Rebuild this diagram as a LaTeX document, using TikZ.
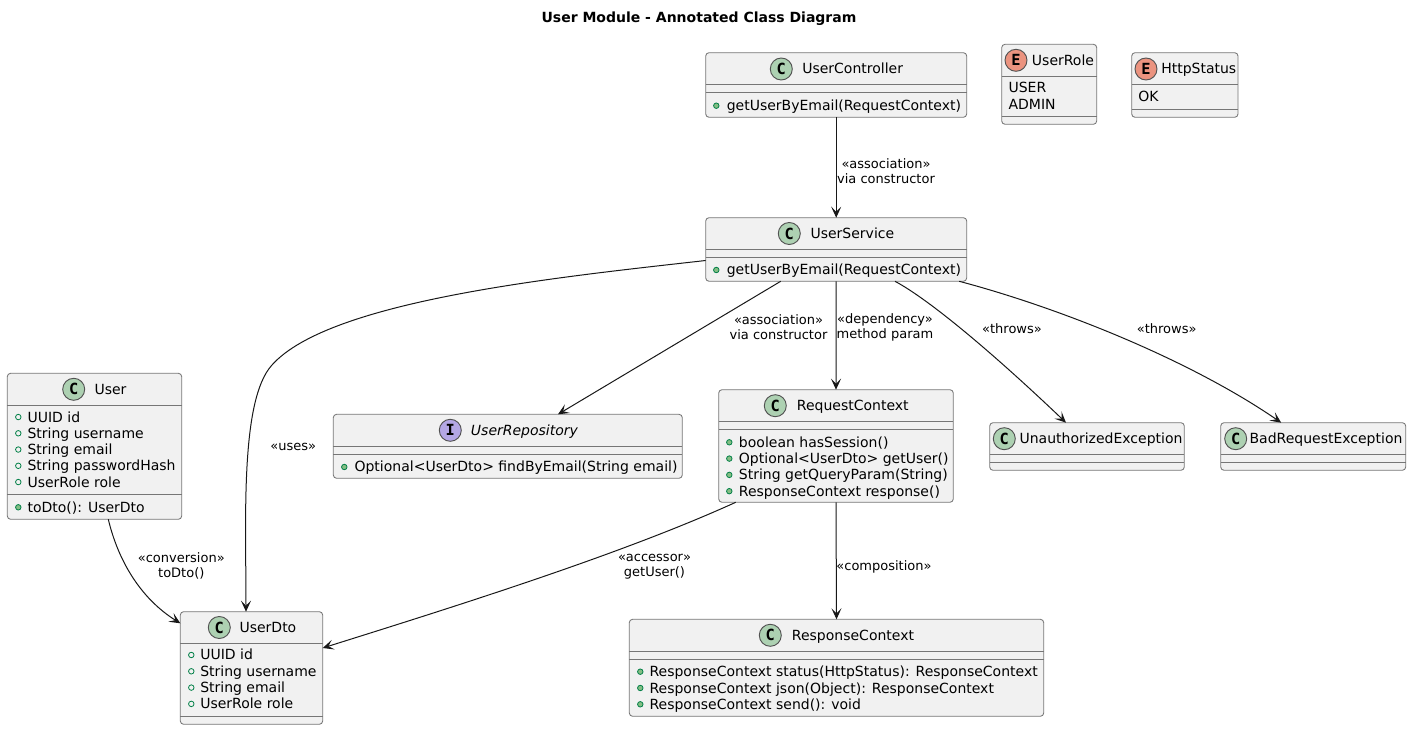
\documentclass[tikz,border=0pt]{standalone}
\usepackage{xcolor}
\usepackage{fontspec}
\usepackage{tikz}
\usetikzlibrary{arrows.meta}
\setmainfont{DejaVu Sans}
\newfontfamily\markfont{DejaVu Sans Mono}
\newcommand{\unitpx}{0.75pt}
\definecolor{boxFill}{HTML}{F1F1F1}
\definecolor{boxLine}{HTML}{767676}
\definecolor{inkDark}{HTML}{181818}
\definecolor{classTint}{HTML}{ADD1B2}
\definecolor{enumTint}{HTML}{EB937F}
\definecolor{ifaceTint}{HTML}{B4A7E5}
\definecolor{dotLine}{HTML}{038048}
\definecolor{dotFill}{HTML}{84BE84}
\tikzset{
  classBox/.style={draw=boxLine, fill=boxFill, line width=0.65pt, rounded corners=2.5pt, anchor=north west, inner sep=0pt, outer sep=0pt},
  sepLine/.style={draw=boxLine, line width=0.65pt},
  baseMark/.style={circle, draw=inkDark!75, line width=0.7pt, minimum size=22*\unitpx, inner sep=0pt, font=\markfont\bfseries\fontsize{11.5pt}{12pt}\selectfont},
  classMark/.style={baseMark, fill=classTint},
  enumMark/.style={baseMark, fill=enumTint},
  ifaceMark/.style={baseMark, fill=ifaceTint},
  nameText/.style={anchor=base west, inner sep=0pt, font=\fontsize{10.5pt}{12pt}\selectfont},
  memberText/.style={anchor=base west, inner sep=0pt, font=\fontsize{10.5pt}{12pt}\selectfont},
  fieldDot/.style={circle, draw=dotLine, line width=0.6pt, minimum size=5.5*\unitpx, inner sep=0pt},
  methodDot/.style={fieldDot, fill=dotFill},
  edgeLabel/.style={align=center, inner sep=0pt, font=\fontsize{9.75pt}{11.4pt}\selectfont},
  umlArrow/.style={draw=inkDark, line width=0.75pt, -{Stealth[length=8.25pt, width=7.5pt, inset=3.8pt]}},
}
\begin{document}
\begin{tikzpicture}[x=0.75pt, y=-0.75pt]
\useasboundingbox (0,0) rectangle (1411,730);
\node[anchor=center, inner sep=0pt, font=\bfseries\fontsize{10.5pt}{12pt}\selectfont] (diagramTitle) at (699,19) {User Module - Annotated Class Diagram};

% boxes
\node[classBox, minimum width=261*\unitpx, minimum height=64.6*\unitpx] (userController) at (705.7,52.7) {};
\node[classBox, minimum width=95*\unitpx, minimum height=80*\unitpx] (userRole) at (1001.7,44.3) {};
\node[classBox, minimum width=106.3*\unitpx, minimum height=64.6*\unitpx] (httpStatus) at (1131.7,52.7) {};
\node[classBox, minimum width=261*\unitpx, minimum height=63.6*\unitpx] (userService) at (705.7,217.7) {};
\node[classBox, minimum width=174.4*\unitpx, minimum height=146*\unitpx] (user) at (7.3,373.3) {};
\node[classBox, minimum width=349*\unitpx, minimum height=64*\unitpx] (userRepository) at (333.3,414.3) {};
\node[classBox, minimum width=234.6*\unitpx, minimum height=112.6*\unitpx] (requestContext) at (718.7,389.7) {};
\node[classBox, minimum width=194.6*\unitpx, minimum height=47.6*\unitpx] (unauthorizedException) at (989.7,422.7) {};
\node[classBox, minimum width=185*\unitpx, minimum height=47.6*\unitpx] (badRequestException) at (1220.7,422.7) {};
\node[classBox, minimum width=142.4*\unitpx, minimum height=112.6*\unitpx] (userDto) at (180.3,611.7) {};
\node[classBox, minimum width=414.4*\unitpx, minimum height=97*\unitpx] (responseContext) at (629.3,619.3) {};

% compartment lines
\foreach \xa/\xb/\ya in {705.7/966.7/84.3, 705.7/966.7/92.3, 1001.7/1096.7/76.3, 1001.7/1096.7/116.3, 1131.7/1238/84.3, 1131.7/1238/109.5, 705.7/966.7/249.3, 705.7/966.7/257.3, 7.3/181.7/405.7, 7.3/181.7/494.3, 333.3/682.3/446, 333.3/682.3/454, 718.7/953.3/421.3, 718.7/953.3/429.3, 989.7/1184.3/454.3, 989.7/1184.3/462.3, 1220.7/1405.7/454.3, 1220.7/1405.7/462.3, 180.3/322.7/643.3, 180.3/322.7/716.3, 629.3/1043.7/651.3, 629.3/1043.7/659.3}
  \draw[sepLine] (\xa,\ya) -- (\xb,\ya);

% headers
\node[classMark] (userControllerMark) at (781.3,69) {C};
\node[nameText] (userControllerName) at (802,74) {UserController};
\node[enumMark] (userRoleMark) at (1016,60.3) {E};
\node[nameText] (userRoleName) at (1031.7,65.3) {UserRole};
\node[enumMark] (httpStatusMark) at (1146,69) {E};
\node[nameText] (httpStatusName) at (1161,74) {HttpStatus};
\node[classMark] (userServiceMark) at (789.3,233.5) {C};
\node[nameText] (userServiceName) at (810.3,238.5) {UserService};
\node[classMark] (userMark) at (73.7,389.3) {C};
\node[nameText] (userName) at (94.3,394.3) {User};
\node[ifaceMark] (userRepositoryMark) at (450.3,430.3) {I};
\node[nameText, font=\itshape\fontsize{10.5pt}{12pt}\selectfont] (userRepositoryName) at (470.7,435.3) {UserRepository};
\node[classMark] (requestContextMark) at (775.3,405.7) {C};
\node[nameText] (requestContextName) at (796.7,410.7) {RequestContext};
\node[classMark] (unauthorizedMark) at (1004.3,438.7) {C};
\node[nameText] (unauthorizedName) at (1019.3,443.7) {UnauthorizedException};
\node[classMark] (badRequestMark) at (1235.7,438.7) {C};
\node[nameText] (badRequestName) at (1249.3,443.7) {BadRequestException};
\node[classMark] (userDtoMark) at (219.3,627.5) {C};
\node[nameText] (userDtoName) at (239.3,632.5) {UserDto};
\node[classMark] (responseContextMark) at (770.3,635.3) {C};
\node[nameText] (responseContextName) at (791.7,640.3) {ResponseContext};

% members
\node[methodDot] (userControllerDot) at (716.3,105.7) {};
\node[memberText] (userControllerMember) at (726.5,110.7) {getUserByEmail(RequestContext)};
\node[memberText] (userRoleUser) at (1008.3,93) {USER};
\node[memberText] (userRoleAdmin) at (1008.3,109.5) {ADMIN};
\node[memberText] (httpStatusOk) at (1138,102) {OK};
\node[methodDot] (userServiceDot) at (716.3,270) {};
\node[memberText] (userServiceMember) at (726.5,275) {getUserByEmail(RequestContext)};
\foreach \row [count=\i] in {UUID id, String username, String email, String passwordHash, UserRole role} {
  \node[fieldDot] (userDot\i) at (18.3,{400.8+16.25*\i}) {};
  \node[memberText] (userField\i) at (27.3,{405.8+16.25*\i}) {\row};
}
\node[methodDot] (userMethodDot) at (18.3,507.3) {};
\node[memberText] (userMethod) at (27.3,512.3) {toDto(): UserDto};
\node[methodDot] (userRepositoryDot) at (344.3,467) {};
\node[memberText] (userRepositoryMember) at (354.3,472) {Optional<UserDto> findByEmail(String email)};
\foreach \row [count=\i] in {boolean hasSession(), Optional<UserDto> getUser(), String getQueryParam(String), ResponseContext response()} {
  \node[methodDot] (requestDot\i) at (729.3,{426+16.3*\i}) {};
  \node[memberText] (requestMember\i) at (738.7,{431+16.3*\i}) {\row};
}
\foreach \row [count=\i] in {UUID id, String username, String email, UserRole role} {
  \node[fieldDot] (userDtoDot\i) at (191.3,{638.7+16.3*\i}) {};
  \node[memberText] (userDtoField\i) at (200,{643.7+16.3*\i}) {\row};
}
\foreach \row [count=\i] in {ResponseContext status(HttpStatus): ResponseContext, ResponseContext json(Object): ResponseContext, ResponseContext send(): void} {
  \node[methodDot] (responseDot\i) at (640.3,{655.4+16.3*\i}) {};
  \node[memberText] (responseMember\i) at (649.3,{660.4+16.3*\i}) {\row};
}

% connectors
\draw[umlArrow] (userController.south) -- (userService.north);
\draw[umlArrow] ([xshift=-55.5*\unitpx]userService.south) -- ([xshift=50.2*\unitpx]userRepository.north);
\draw[umlArrow] (userService.south) -- (requestContext.north);
\draw[umlArrow] ([xshift=58.8*\unitpx]userService.south) .. controls (930,300) and (995,355) .. ([xshift=-21*\unitpx]unauthorizedException.north);
\draw[umlArrow] ([xshift=123*\unitpx]userService.south) .. controls (1060,308) and (1190,360) .. ([xshift=-32*\unitpx]badRequestException.north);
\draw[umlArrow] ([yshift=-11*\unitpx]userService.west) .. controls (560,277) and (330,300) .. (272,365) .. controls (240,400) and (246,520) .. ([xshift=-5.5*\unitpx]userDto.north);
\draw[umlArrow] ([xshift=13.8*\unitpx]user.south) .. controls (118,560) and (140,598) .. ([yshift=-11.6*\unitpx]userDto.north west);
\draw[umlArrow] ([xshift=-100.3*\unitpx]requestContext.south) .. controls (620,555) and (450,608) .. ([yshift=-36.3*\unitpx]userDto.north east);
\draw[umlArrow] (requestContext.south) -- (responseContext.north);

% labels
\node[edgeLabel] (controllerServiceLabel) at (886,171.5) {«association»\\via constructor};
\node[edgeLabel] (serviceRepositoryLabel) at (778.5,327.5) {«association»\\via constructor};
\node[edgeLabel] (serviceRequestLabel) at (885,327.5) {«dependency»\\method param};
\node[edgeLabel] (serviceUnauthorizedLabel) at (1012,328.5) {«throws»};
\node[edgeLabel] (serviceBadRequestLabel) at (1166.7,328.5) {«throws»};
\node[edgeLabel] (serviceDtoLabel) at (293.3,447) {«uses»};
\node[edgeLabel] (userDtoLabel) at (181.3,566) {«conversion»\\toDto()};
\node[edgeLabel] (requestDtoLabel) at (654.5,566.5) {«accessor»\\getUser()};
\node[edgeLabel] (requestResponseLabel) at (884,566.5) {«composition»};
\end{tikzpicture}
\end{document}
